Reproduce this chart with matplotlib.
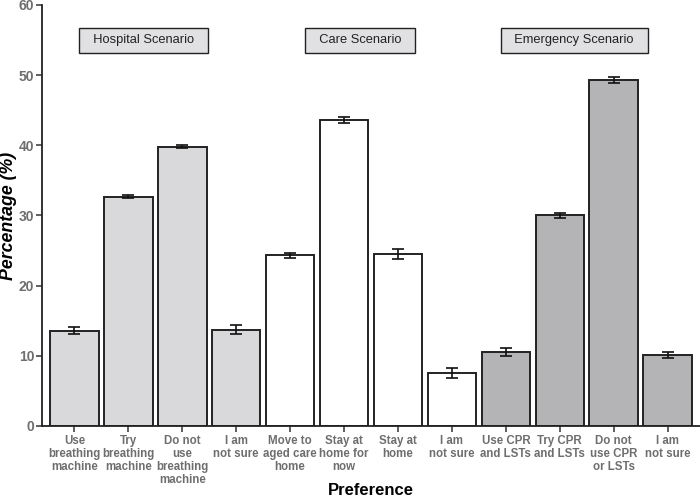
import matplotlib.pyplot as plt

# data
labels = ['Use\nbreathing\nmachine', 'Try\nbreathing\nmachine', 'Do not\nuse\nbreathing\nmachine',
          'I am\nnot sure', 'Move to\naged care\nhome', 'Stay at\nhome for\nnow', 'Stay at\nhome',
          'I am\nnot sure', 'Use CPR\nand LSTs', 'Try CPR\nand LSTs', 'Do not\nuse CPR\nor LSTs',
          'I am\nnot sure']
values = [13.6, 32.7, 39.8, 13.7, 24.3, 43.6, 24.5, 7.6, 10.5, 30.0, 49.3, 10.1]
errors = [0.55, 0.25, 0.2, 0.65, 0.3, 0.4, 0.65, 0.7, 0.6, 0.3, 0.4, 0.45]
scenario = ['hosp'] * 4 + ['care'] * 4 + ['emerg'] * 4
scen_names = ['Hospital Scenario', 'Care Scenario', 'Emergency Scenario']
scen_xpos = [2.28, 6.3, 10.27]

fills = {'hosp': '#d9d9db', 'care': '#ffffff', 'emerg': '#b4b4b7'}

plt.rcParams['font.family'] = ['Liberation Sans', 'DejaVu Sans']

fig = plt.figure(figsize=(7, 4.97), dpi=100)
ax = fig.add_axes([0.06, 0.143, 0.94, 0.847])

x = list(range(1, len(values) + 1))
ax.bar(x, values, width=0.9, color=[fills[s] for s in scenario],
       edgecolor='#222222', linewidth=1.4, zorder=2)
ax.errorbar(x, values, yerr=errors, fmt='none', ecolor='#111111',
            elinewidth=1.2, capsize=4.3, capthick=1.2, zorder=3)

for name, xp in zip(scen_names, scen_xpos):
    ax.text(xp, 55.0, '  ' + name + '  ', ha='center', va='center', fontsize=9.3, color='#222222',
            bbox=dict(boxstyle='square,pad=0.5', facecolor='#e1e1e3',
                      edgecolor='#222222', linewidth=1.0))

ax.set_xlim(0.4, 12.6)
ax.set_ylim(0, 60)
ax.set_yticks(range(0, 61, 10))
ax.set_xticks(x)
ax.set_xticklabels(labels, fontsize=8.3, fontweight='bold', color='#6e6e6e', linespacing=1.1)
for t in ax.get_yticklabels():
    t.set_fontsize(10)
    t.set_fontweight('bold')
    t.set_color('#6e6e6e')

ax.spines['top'].set_visible(False)
ax.spines['right'].set_visible(False)
ax.spines['left'].set_linewidth(1.3)
ax.spines['bottom'].set_linewidth(1.3)
ax.spines['left'].set_color('#222222')
ax.spines['bottom'].set_color('#222222')
ax.tick_params(axis='both', length=4, width=1.1, color='#333333')
ax.tick_params(axis='x', pad=2.5)
ax.tick_params(axis='y', pad=1.5)

fig.text(0.53, 0.0127, 'Preference', ha='center', va='center',
         fontsize=12, fontweight='bold')
fig.text(0.012, 0.565, 'Percentage (%)', ha='center', va='center', rotation=90,
         fontsize=12.8, fontweight='bold', style='italic')

fig.savefig('out.png', dpi=100)
